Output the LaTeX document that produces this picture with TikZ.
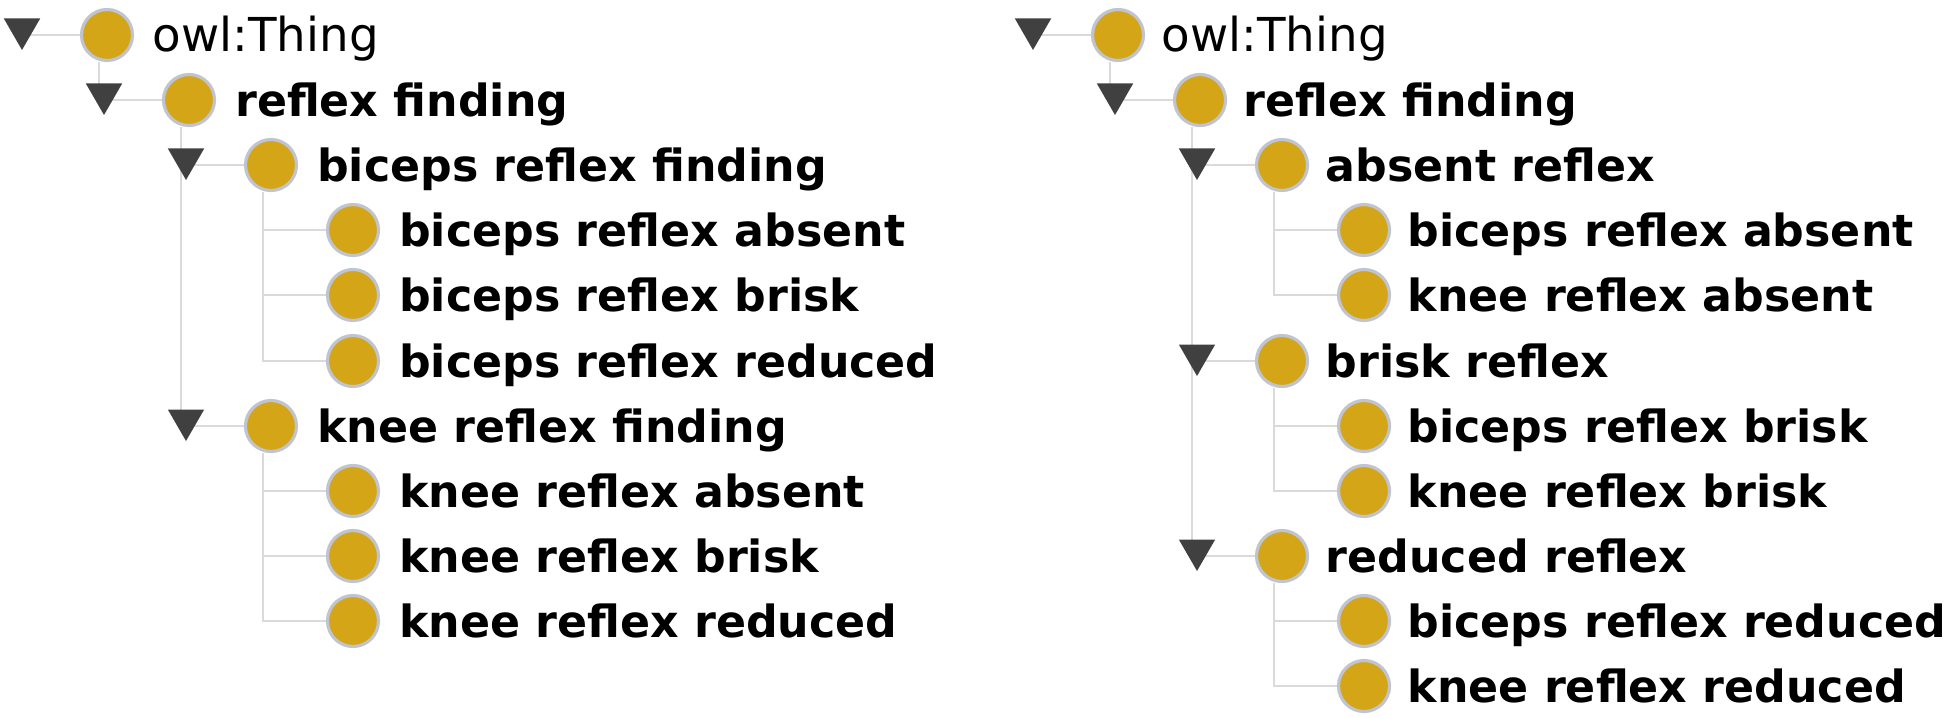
\documentclass[tikz,border=0pt]{standalone}
\usepackage{fontspec}
\setmainfont{DejaVu Sans}
\usepackage{tikz}
\usetikzlibrary{shapes.geometric}
\definecolor{gold}{RGB}{212,165,23}
\definecolor{rim}{RGB}{192,196,206}
\definecolor{twiggray}{RGB}{218,218,218}
\definecolor{darkgray}{RGB}{64,64,64}
\pgfdeclarelayer{bg}
\pgfsetlayers{bg,main}
\tikzstyle{ball} = [circle, minimum size=0.51cm, inner sep=0pt, fill=gold, draw=rim, line width=0.9pt]
\tikzstyle{classtext} = [anchor=base west, inner sep=0pt, font=\fontsize{12.6}{15}\selectfont\bfseries]
\tikzstyle{roottext} = [anchor=base west, inner sep=0pt, font=\fontsize{13.3}{15}\selectfont]
\tikzstyle{toggle} = [regular polygon, regular polygon sides=3, shape border rotate=180, minimum size=0.42cm, inner sep=0pt, fill=darkgray]
\tikzstyle{twig} = [draw=twiggray, line width=0.7pt]

\begin{document}
\begin{tikzpicture}
                \useasboundingbox (0,0) rectangle (19.46,-7.19);
                % left tree
                \node (a0) [ball] at (1.07,-0.35) {};
                \node (a1) [ball] at (1.89,-1.00) {};
                \node (a2) [ball] at (2.71,-1.65) {};
                \node (a3) [ball] at (3.53,-2.30) {};
                \node (a4) [ball] at (3.53,-2.95) {};
                \node (a5) [ball] at (3.53,-3.61) {};
                \node (a6) [ball] at (2.71,-4.26) {};
                \node (a7) [ball] at (3.53,-4.91) {};
                \node (a8) [ball] at (3.53,-5.56) {};
                \node (a9) [ball] at (3.53,-6.21) {};
                \node (a0s) [toggle] at (0.22,-0.29) {};
                \node (a1s) [toggle] at (1.04,-0.94) {};
                \node (a2s) [toggle] at (1.86,-1.59) {};
                \node (a6s) [toggle] at (1.86,-4.20) {};
                \node (a0t) [roottext] at ([xshift=0.45cm, yshift=-0.17cm]a0.center) {owl:Thing};
                \node (a1t) [classtext] at ([xshift=0.455cm, yshift=-0.165cm]a1.center) {reflex finding};
                \node (a2t) [classtext] at ([xshift=0.455cm, yshift=-0.165cm]a2.center) {biceps reflex finding};
                \node (a3t) [classtext] at ([xshift=0.455cm, yshift=-0.165cm]a3.center) {biceps reflex absent};
                \node (a4t) [classtext] at ([xshift=0.455cm, yshift=-0.165cm]a4.center) {biceps reflex brisk};
                \node (a5t) [classtext] at ([xshift=0.455cm, yshift=-0.165cm]a5.center) {biceps reflex reduced};
                \node (a6t) [classtext] at ([xshift=0.455cm, yshift=-0.165cm]a6.center) {knee reflex finding};
                \node (a7t) [classtext] at ([xshift=0.455cm, yshift=-0.165cm]a7.center) {knee reflex absent};
                \node (a8t) [classtext] at ([xshift=0.455cm, yshift=-0.165cm]a8.center) {knee reflex brisk};
                \node (a9t) [classtext] at ([xshift=0.455cm, yshift=-0.165cm]a9.center) {knee reflex reduced};
                % right tree
                \node (b0) [ball] at (11.18,-0.35) {};
                \node (b1) [ball] at (12.00,-1.00) {};
                \node (b2) [ball] at (12.82,-1.65) {};
                \node (b3) [ball] at (13.64,-2.30) {};
                \node (b4) [ball] at (13.64,-2.95) {};
                \node (b5) [ball] at (12.82,-3.61) {};
                \node (b6) [ball] at (13.64,-4.26) {};
                \node (b7) [ball] at (13.64,-4.91) {};
                \node (b8) [ball] at (12.82,-5.56) {};
                \node (b9) [ball] at (13.64,-6.21) {};
                \node (b10) [ball] at (13.64,-6.86) {};
                \node (b0s) [toggle] at (10.33,-0.29) {};
                \node (b1s) [toggle] at (11.15,-0.94) {};
                \node (b2s) [toggle] at (11.97,-1.59) {};
                \node (b5s) [toggle] at (11.97,-3.55) {};
                \node (b8s) [toggle] at (11.97,-5.50) {};
                \node (b0t) [roottext] at ([xshift=0.43cm, yshift=-0.17cm]b0.center) {owl:Thing};
                \node (b1t) [classtext] at ([xshift=0.43cm, yshift=-0.165cm]b1.center) {reflex finding};
                \node (b2t) [classtext] at ([xshift=0.43cm, yshift=-0.165cm]b2.center) {absent reflex};
                \node (b3t) [classtext] at ([xshift=0.43cm, yshift=-0.165cm]b3.center) {biceps reflex absent};
                \node (b4t) [classtext] at ([xshift=0.43cm, yshift=-0.165cm]b4.center) {knee reflex absent};
                \node (b5t) [classtext] at ([xshift=0.43cm, yshift=-0.165cm]b5.center) {brisk reflex};
                \node (b6t) [classtext] at ([xshift=0.43cm, yshift=-0.165cm]b6.center) {biceps reflex brisk};
                \node (b7t) [classtext] at ([xshift=0.43cm, yshift=-0.165cm]b7.center) {knee reflex brisk};
                \node (b8t) [classtext] at ([xshift=0.43cm, yshift=-0.165cm]b8.center) {reduced reflex};
                \node (b9t) [classtext] at ([xshift=0.43cm, yshift=-0.165cm]b9.center) {biceps reflex reduced};
                \node (b10t) [classtext] at ([xshift=0.43cm, yshift=-0.165cm]b10.center) {knee reflex reduced};
                % tree lines behind everything
                \begin{pgfonlayer}{bg}
                \draw [twig] (a0s |- a0) -- (a0);
                \draw [twig] ([xshift=-0.08cm]a0.south) |- (a1);
                \draw [twig] ([xshift=-0.08cm]a1.south) |- (a2);
                \draw [twig] ([xshift=-0.08cm]a1.south) |- (a6);
                \draw [twig] ([xshift=-0.08cm]a2.south) |- (a3);
                \draw [twig] ([xshift=-0.08cm]a2.south) |- (a4);
                \draw [twig] ([xshift=-0.08cm]a2.south) |- (a5);
                \draw [twig] ([xshift=-0.08cm]a6.south) |- (a7);
                \draw [twig] ([xshift=-0.08cm]a6.south) |- (a8);
                \draw [twig] ([xshift=-0.08cm]a6.south) |- (a9);
                \draw [twig] (b0s |- b0) -- (b0);
                \draw [twig] ([xshift=-0.08cm]b0.south) |- (b1);
                \draw [twig] ([xshift=-0.08cm]b1.south) |- (b2);
                \draw [twig] ([xshift=-0.08cm]b1.south) |- (b5);
                \draw [twig] ([xshift=-0.08cm]b1.south) |- (b8);
                \draw [twig] ([xshift=-0.08cm]b2.south) |- (b3);
                \draw [twig] ([xshift=-0.08cm]b2.south) |- (b4);
                \draw [twig] ([xshift=-0.08cm]b5.south) |- (b6);
                \draw [twig] ([xshift=-0.08cm]b5.south) |- (b7);
                \draw [twig] ([xshift=-0.08cm]b8.south) |- (b9);
                \draw [twig] ([xshift=-0.08cm]b8.south) |- (b10);
                \end{pgfonlayer}
            \end{tikzpicture}
\end{document}
